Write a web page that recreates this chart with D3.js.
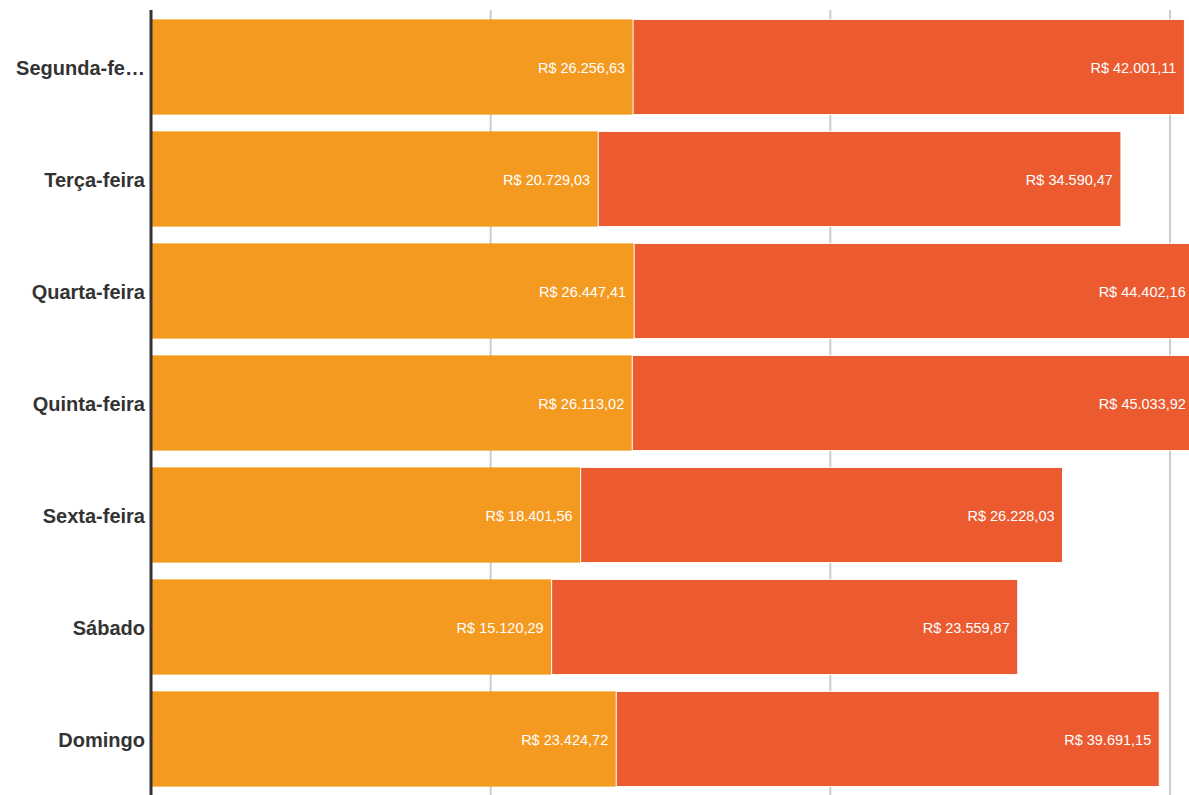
<!DOCTYPE html>
<html>
<head>
<meta charset="utf-8">
<script src="https://cdn.jsdelivr.net/npm/d3@7"></script>
<style>
  body { margin: 0; background: #fff; }
  text { font-family: "Liberation Sans", Arial, sans-serif; }
</style>
</head>
<body>
<div id="chart"></div>
<script>
var days = ["Segunda-feira", "Terça-feira", "Quarta-feira", "Quinta-feira", "Sexta-feira", "Sábado", "Domingo"];
var serieA = [26256.63, 20729.03, 26447.41, 26113.02, 18401.56, 15120.29, 23424.72];
var serieB = [42001.11, 34590.47, 44402.16, 45033.92, 26228.03, 23559.87, 39691.15];
var gridValues = [10000, 100000, 1000000];
var colors = ["#f59a21", "#ec5a30"];

var width = 1189, height = 795;

var svg = d3.select("#chart")
    .append("svg")
    .attr("width", width)
    .attr("height", height);

var x = d3.scaleLog().domain([1000, 1000000]).range([151, 1170]);
var y = d3.scaleBand().domain(days).range([11, 795]).paddingInner(0.15).paddingOuter(0.075);

var fmt = d3.formatLocale({decimal: ",", thousands: ".", grouping: [3], currency: ["R$ ", ""]}).format("$,.2f");

// gridlines
svg.selectAll("line.grid")
    .data(gridValues)
    .enter()
    .append("line")
    .attr("class", "grid")
    .attr("x1", function(d) { return x(d); })
    .attr("x2", function(d) { return x(d); })
    .attr("y1", 10)
    .attr("y2", height)
    .attr("stroke", "#cccccc")
    .attr("stroke-width", 2);

var rows = svg.selectAll("g.row")
    .data(days)
    .enter()
    .append("g")
    .attr("class", "row")
    .attr("transform", function(d) { return "translate(0," + y(d) + ")"; });

// segments stacked in pixel space
rows.each(function(d, i) {
    var g = d3.select(this);
    var vals = [serieA[i], serieB[i]];
    var start = x.range()[0];
    vals.forEach(function(v, k) {
        var w = x(v) - x.range()[0];
        g.append("rect")
            .attr("x", start)
            .attr("y", 0)
            .attr("width", w)
            .attr("height", y.bandwidth())
            .attr("fill", colors[k])
            .attr("stroke", "#fff")
            .attr("stroke-width", k == 0 ? 0 : 1);
        g.append("text")
            .attr("x", start + w - 8)
            .attr("y", y.bandwidth() / 2 + 1)
            .attr("dy", ".35em")
            .attr("text-anchor", "end")
            .attr("fill", "#fff")
            .style("font-size", "14.5px")
            .text(fmt(v));
        start += w;
    });
});

// category labels
svg.selectAll("text.cat")
    .data(days)
    .enter()
    .append("text")
    .attr("class", "cat")
    .attr("x", 145)
    .attr("y", function(d) { return y(d) + y.bandwidth() / 2 + 1; })
    .attr("dy", ".35em")
    .attr("text-anchor", "end")
    .attr("fill", "#333")
    .style("font-size", "20px")
    .style("font-weight", "bold")
    .text(function(d) { return d; })
    .each(function(d) {
        var t = d3.select(this);
        var s = d;
        while (this.getComputedTextLength() > 130 && s.length > 1) {
            s = s.slice(0, -1);
            t.text(s + "…");
        }
    });

// axis line
svg.append("line")
    .attr("x1", 151)
    .attr("x2", 151)
    .attr("y1", 10)
    .attr("y2", height)
    .attr("stroke", "#333")
    .attr("stroke-width", 3);
</script>
</body>
</html>
